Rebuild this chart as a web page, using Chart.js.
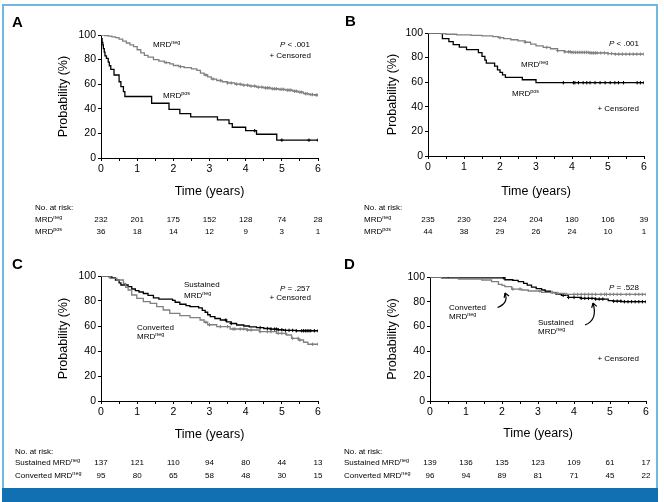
<!DOCTYPE html>
<html lang="en">
<head>
<meta charset="UTF-8">
<title>MRD survival curves</title>
<script src="https://cdn.jsdelivr.net/npm/chart.js"></script>
<style>
  body { margin: 0; background: #fff; width: 664px; height: 502px; position: relative; overflow: hidden; }
  .frame { position: absolute; left: 2px; top: 4px; width: 652px; height: 484px; border: 2px solid #72b7de; border-bottom: none; }
  .bar { position: absolute; left: 2px; top: 488px; width: 656px; height: 14px; background: #1070b2; }
  canvas { position: absolute; }
</style>
</head>
<body>
<div class="frame"></div>
<div class="bar"></div>
<canvas id="cA" width="332" height="250" style="left:0;top:0"></canvas>
<canvas id="cB" width="332" height="250" style="left:332px;top:0"></canvas>
<canvas id="cC" width="332" height="250" style="left:0;top:250px"></canvas>
<canvas id="cD" width="332" height="250" style="left:332px;top:250px"></canvas>
<script>
  const FAM = '"Liberation Sans", Arial, sans-serif';
  const BLACK = '#000';
  const GREY = '#808080';

  const years = [0, 1, 2, 3, 4, 5, 6];

  // Panel A
  const aNegT = [0, 0.1, 0.2, 0.3, 0.4, 0.5, 0.6, 0.7, 0.8, 0.9, 1.0, 1.1, 1.2, 1.3, 1.45, 1.6, 1.75, 1.9, 2.0, 2.15, 2.3, 2.5, 2.65, 2.75, 2.85, 2.95, 3.05, 3.2, 3.35, 3.5, 3.7, 3.9, 4.1, 4.3, 4.5, 4.7, 4.9, 5.1, 5.3, 5.45, 5.6, 5.75, 5.9, 6];
  const aNegS = [100, 99.6, 99.1, 98.5, 97.8, 96.6, 95, 93.5, 92, 90.5, 88, 85.5, 83.5, 82, 80, 78.8, 77.6, 76.5, 75.2, 74.3, 73.5, 72.4, 71.2, 69, 67.5, 66, 64.2, 63, 62, 61, 60, 59.2, 58.5, 57.6, 57, 56.3, 55.8, 55.2, 54.3, 53.5, 52.3, 51.6, 51.2, 51.2];
  const aNegCens = [1.8, 2.2, 2.9, 3.1, 3.3, 3.5, 3.6, 3.75, 3.85, 3.95, 4.05, 4.15, 4.25, 4.35, 4.45, 4.55, 4.6, 4.65, 4.75, 4.8, 4.85, 4.95, 5.0, 5.05, 5.15, 5.2, 5.25, 5.35, 5.4, 5.5, 5.55, 5.65, 5.7, 5.8, 5.85, 5.95, 6.0];
  const aPosT = [0, 0.01, 0.03, 0.05, 0.065, 0.09, 0.11, 0.15, 0.2, 0.23, 0.27, 0.36, 0.5, 0.55, 0.62, 0.66, 1.4, 1.88, 2.18, 2.48, 3.22, 3.54, 3.63, 4.0, 4.3, 4.86, 6];
  const aPosS = [100, 97, 94, 92, 89, 86, 83, 81, 78, 75, 72, 67.5, 62, 58, 54, 50, 44.5, 39.5, 36, 33.5, 31, 28, 25, 22.2, 19.3, 14.5, 14.5];
  const aPosCens = [4.25, 5.0, 5.75, 6.0];
  const riskANeg = [232, 201, 175, 152, 128, 74, 28];
  const riskAPos = [36, 18, 14, 12, 9, 3, 1];

  // Panel B
  const bNegT = [0, 0.35, 0.5, 0.8, 1.2, 1.5, 1.8, 1.95, 2.1, 2.3, 2.5, 2.7, 2.85, 3.0, 3.2, 3.4, 3.6, 3.8, 4.0, 4.5, 5.0, 5.2, 6];
  const bNegS = [100, 99.5, 99, 98.4, 98, 97.6, 97, 96.2, 95.5, 94.5, 93.6, 92.5, 91, 89.5, 88.3, 87.2, 85.6, 84.7, 84.2, 83.8, 83.3, 82.8, 82.8];
  const bNegCens = [2.0, 2.7, 3.3, 3.6, 3.8, 3.9, 3.95, 4.0, 4.05, 4.1, 4.15, 4.2, 4.25, 4.3, 4.35, 4.4, 4.45, 4.5, 4.55, 4.6, 4.65, 4.7, 4.8, 4.9, 5.0, 5.1, 5.2, 5.3, 5.4, 5.5, 5.6, 5.7, 5.8, 5.9, 6.0];
  const bPosT = [0, 0.4, 0.58, 0.7, 0.87, 1.07, 1.4, 1.5, 1.58, 1.62, 1.85, 1.93, 2.0, 2.07, 2.15, 2.62, 3.0, 6];
  const bPosS = [100, 95.5, 93, 90.5, 88.5, 86.5, 84, 81, 78, 75.5, 73, 70, 68, 66, 64, 62, 59.6, 59.6];
  const bPosCens = [3.76, 4.04, 4.08, 4.18, 4.31, 4.41, 4.5, 4.64, 4.78, 4.92, 5.06, 5.19, 5.29, 5.43, 5.81, 5.9, 6.0];
  const riskBNeg = [235, 230, 224, 204, 180, 106, 39];
  const riskBPos = [44, 38, 29, 26, 24, 10, 1];

  // Panel C
  const cSusT = [0, 0.22, 0.3, 0.4, 0.5, 0.55, 0.75, 0.85, 0.95, 1.05, 1.17, 1.3, 1.45, 1.6, 1.98, 2.05, 2.18, 2.35, 2.46, 2.7, 2.8, 2.88, 2.95, 3.02, 3.15, 3.3, 3.47, 3.6, 3.75, 3.95, 4.1, 4.3, 4.5, 4.7, 4.9, 5.05, 5.4, 6];
  const cSusS = [100, 99.3, 98.5, 96.8, 94.5, 92.8, 91.5, 89.6, 88.3, 87.2, 86, 84.5, 82.5, 81.5, 80.5, 79, 77.4, 76.3, 75.5, 74.5, 72.5, 71, 69, 67.5, 66, 64.8, 63.3, 62, 60.8, 60, 59.3, 58.7, 58, 57.5, 57, 56.5, 56.2, 56.2];
  const cSusCens = [3.45, 3.6, 4.4, 4.6, 4.7, 4.8, 4.85, 4.9, 5.0, 5.1, 5.2, 5.3, 5.4, 5.55, 5.6, 5.65, 5.7, 5.75, 5.8, 5.9, 6.0];
  const cConT = [0, 0.25, 0.44, 0.62, 0.68, 0.75, 0.85, 0.99, 1.17, 1.36, 1.54, 1.72, 1.9, 2.18, 2.46, 2.74, 2.85, 2.95, 3.2, 3.57, 4.03, 4.39, 4.85, 5.13, 5.27, 5.46, 5.6, 5.72, 6];
  const cConS = [100, 98.1, 96.8, 94.1, 91, 88.8, 84.8, 82.1, 79.5, 78.1, 75.5, 72.8, 70.1, 68.3, 66.7, 64.8, 63, 61, 59.5, 57.6, 56.8, 55.5, 54.1, 52.8, 50.1, 48.8, 47, 45.4, 45.4];
  const cConCens = [2.9, 3.0, 3.3, 3.5, 3.65, 3.7, 3.85, 3.95, 4.05, 4.15, 4.4, 4.6, 4.7, 4.9, 5.0, 5.1, 5.3, 5.45, 5.5, 5.85, 6.0];
  const riskCSus = [137, 121, 110, 94, 80, 44, 13];
  const riskCCon = [95, 80, 65, 58, 48, 30, 15];

  // Panel D
  const dSusT = [0, 0.51, 2.08, 2.3, 2.45, 2.6, 2.7, 2.82, 2.95, 3.1, 3.2, 3.35, 3.5, 3.65, 3.84, 4.2, 4.6, 4.95, 5.1, 5.32, 6];
  const dSusS = [100, 99.3, 97.8, 97.2, 96.2, 94.8, 93.5, 91.8, 90.6, 89.5, 88.5, 87.4, 86.2, 85.2, 83.5, 82.8, 82.2, 81, 80.5, 80.1, 80.1];
  const dSusCens = [2.05, 3.7, 3.85, 4.0, 4.2, 4.3, 4.4, 4.5, 4.6, 4.7, 4.8, 5.1, 5.2, 5.3, 5.4, 5.5, 5.6, 5.7, 5.8, 5.9, 6.0];
  const dConT = [0, 0.32, 0.79, 1.44, 1.71, 1.9, 2.0, 2.08, 2.27, 2.55, 2.73, 3.1, 3.47, 3.75, 6];
  const dConS = [100, 98.9, 98.4, 97.6, 96.2, 94.1, 93.2, 92.2, 90.3, 89.5, 88.7, 87.6, 86.8, 86, 86];
  const dConCens = [2.3, 2.5, 3.05, 3.4, 3.55, 3.8, 4.0, 4.1, 4.2, 4.3, 4.4, 4.5, 4.6, 4.75, 4.85, 4.9, 5.0, 5.1, 5.2, 5.3, 5.45, 5.55, 5.7, 5.8, 5.9, 6.0];
  const riskDSus = [139, 136, 135, 123, 109, 61, 17];
  const riskDCon = [96, 94, 89, 81, 71, 45, 22];

  // value of the KM step function at time t
  function stepAt(ts, ss, t) {
    let v = ss[0];
    for (let i = 0; i < ts.length; i++) if (ts[i] <= t) v = ss[i];
    return v;
  }

  // text with optional italic / superscript parts, y is the visual middle
  function rich(ctx, parts, x, y, align, size) {
    size = size || 8;
    const fonts = parts.map(p => (p.it ? 'italic ' : '') + (p.sup ? size * 0.68 : size) + 'px ' + FAM);
    let w = 0;
    parts.forEach((p, i) => { ctx.font = fonts[i]; w += ctx.measureText(p.t).width; });
    let cx = align === 'right' ? x - w : x;
    ctx.textAlign = 'left';
    ctx.textBaseline = 'alphabetic';
    parts.forEach((p, i) => {
      ctx.font = fonts[i];
      ctx.fillText(p.t, cx, y + size * 0.36 - (p.sup ? size * 0.42 : 0));
      cx += ctx.measureText(p.t).width;
    });
  }

  function drawArrow(ctx, a) {
    ctx.strokeStyle = '#000';
    ctx.lineWidth = 1.2;
    ctx.beginPath();
    ctx.moveTo(a.from[0], a.from[1]);
    ctx.quadraticCurveTo(a.ctrl[0], a.ctrl[1], a.to[0], a.to[1]);
    ctx.stroke();
    const ang = Math.atan2(a.to[1] - a.ctrl[1], a.to[0] - a.ctrl[0]);
    ctx.beginPath();
    [0.55, -0.55].forEach(d => {
      ctx.moveTo(a.to[0], a.to[1]);
      ctx.lineTo(a.to[0] - 5 * Math.cos(ang + d), a.to[1] - 5 * Math.sin(ang + d));
    });
    ctx.stroke();
  }

  const mrd = sup => [{ t: 'MRD' }, { t: sup, sup: true }];

  const panelText = {
    id: 'panelText',
    afterDraw(chart, args, opts) {
      const ctx = chart.ctx;
      ctx.save();
      ctx.fillStyle = '#000';
      ctx.font = 'bold 15px ' + FAM;
      ctx.textAlign = 'left';
      ctx.textBaseline = 'middle';
      ctx.fillText(opts.letter, opts.letterPos[0], opts.letterPos[1]);
      opts.texts.forEach(tx => rich(ctx, tx.parts, tx.x, tx.y, tx.align));
      (opts.arrows || []).forEach(a => drawArrow(ctx, a));
      const xs = chart.scales.x;
      const r = opts.risk;
      rich(ctx, [{ t: 'No. at risk:' }], r.x, r.y[0], 'left');
      r.rows.forEach((row, i) => {
        const y = r.y[i + 1];
        rich(ctx, row.label, r.x, y, 'left');
        ctx.font = '8px ' + FAM;
        ctx.textAlign = 'center';
        ctx.textBaseline = 'middle';
        row.values.forEach((v, j) => ctx.fillText(String(v), xs.getPixelForValue(years[j]), y + 0.5));
      });
      ctx.restore();
    }
  };

  function kmChart(id, p) {
    const datasets = [];
    p.curves.forEach(c => {
      datasets.push({
        data: c.t.map((t, i) => ({ x: t, y: c.s[i] })),
        borderColor: c.color, borderWidth: 1.3, pointRadius: 0,
        stepped: 'before', fill: false
      });
      datasets.push({
        data: c.cens.map(t => ({ x: t, y: stepAt(c.t, c.s, t) })),
        showLine: false, pointStyle: 'cross', pointRadius: 1.7,
        borderColor: c.color, borderWidth: 1
      });
    });
    new Chart(document.getElementById(id), {
      type: 'line',
      data: { datasets },
      plugins: [panelText],
      options: {
        responsive: false,
        animation: false,
        layout: { padding: p.pad },
        plugins: { legend: { display: false }, tooltip: { enabled: false }, panelText: p.text },
        scales: {
          x: {
            type: 'linear', min: 0, max: 6,
            afterFit: s => { s.height = p.xh; },
            ticks: {
              stepSize: 0.5, autoSkip: false, maxRotation: 0, color: '#000', padding: 2,
              font: { size: 10.5, family: FAM },
              callback: v => Math.abs(v - Math.round(v)) < 1e-6 ? String(Math.round(v)) : ''
            },
            grid: { drawOnChartArea: false, tickLength: 3, color: '#000' },
            border: { color: '#000', width: 1 },
            title: { display: true, text: 'Time (years)', color: '#000', padding: 0, font: { size: 12.5, family: FAM } }
          },
          y: {
            min: 0, max: 100,
            afterFit: s => { s.width = p.yw; },
            ticks: {
              stepSize: 10, color: '#000', padding: 2,
              font: { size: 10.5, family: FAM },
              callback: v => v % 20 === 0 ? String(v) : ''
            },
            grid: { drawOnChartArea: false, tickLength: 3, color: '#000' },
            border: { color: '#000', width: 1 },
            title: { display: true, text: 'Probability (%)', color: '#000', padding: 0, font: { size: 12.5, family: FAM } }
          }
        }
      }
    });
  }

  kmChart('cA', {
    pad: { left: 56, right: 14, top: 35, bottom: 51 }, yw: 45, xh: 41,
    curves: [
      { t: aNegT, s: aNegS, cens: aNegCens, color: GREY },
      { t: aPosT, s: aPosS, cens: aPosCens, color: BLACK }
    ],
    text: {
      letter: 'A', letterPos: [12, 23],
      texts: [
        { parts: mrd('neg'), x: 153, y: 44 },
        { parts: mrd('pos'), x: 163, y: 95 },
        { parts: [{ t: 'P', it: true }, { t: ' < .001' }], x: 310, y: 44, align: 'right' },
        { parts: [{ t: '+ Censored' }], x: 311, y: 55, align: 'right' }
      ],
      risk: { x: 35, y: [207, 219, 231], rows: [
        { label: mrd('neg'), values: riskANeg },
        { label: mrd('pos'), values: riskAPos }
      ] }
    }
  });

  kmChart('cB', {
    pad: { left: 53, right: 20, top: 33, bottom: 51 }, yw: 43, xh: 43,
    curves: [
      { t: bNegT, s: bNegS, cens: bNegCens, color: GREY },
      { t: bPosT, s: bPosS, cens: bPosCens, color: BLACK }
    ],
    text: {
      letter: 'B', letterPos: [13, 22],
      texts: [
        { parts: [{ t: 'P', it: true }, { t: ' < .001' }], x: 307, y: 43, align: 'right' },
        { parts: mrd('neg'), x: 189, y: 64 },
        { parts: mrd('pos'), x: 180, y: 93 },
        { parts: [{ t: '+ Censored' }], x: 307, y: 108, align: 'right' }
      ],
      risk: { x: 32, y: [207, 219, 231], rows: [
        { label: mrd('neg'), values: riskBNeg },
        { label: mrd('pos'), values: riskBPos }
      ] }
    }
  });

  kmChart('cC', {
    pad: { left: 56, right: 14, top: 26, bottom: 58 }, yw: 45, xh: 41,
    curves: [
      { t: cConT, s: cConS, cens: cConCens, color: GREY },
      { t: cSusT, s: cSusS, cens: cSusCens, color: BLACK }
    ],
    text: {
      letter: 'C', letterPos: [12, 15],
      texts: [
        { parts: [{ t: 'Sustained' }], x: 184, y: 34 },
        { parts: mrd('neg'), x: 184, y: 45 },
        { parts: [{ t: 'P', it: true }, { t: ' = .257' }], x: 310, y: 38, align: 'right' },
        { parts: [{ t: '+ Censored' }], x: 311, y: 47, align: 'right' },
        { parts: [{ t: 'Converted' }], x: 137, y: 77 },
        { parts: mrd('neg'), x: 137, y: 86 }
      ],
      risk: { x: 15, y: [201, 212, 225], rows: [
        { label: [{ t: 'Sustained ' }].concat(mrd('neg')), values: riskCSus },
        { label: [{ t: 'Converted ' }].concat(mrd('neg')), values: riskCCon }
      ] }
    }
  });

  kmChart('cD', {
    pad: { left: 53, right: 18, top: 27, bottom: 59 }, yw: 45, xh: 40,
    curves: [
      { t: dConT, s: dConS, cens: dConCens, color: GREY },
      { t: dSusT, s: dSusS, cens: dSusCens, color: BLACK }
    ],
    text: {
      letter: 'D', letterPos: [12, 15],
      texts: [
        { parts: [{ t: 'P', it: true }, { t: ' = .528' }], x: 307, y: 37, align: 'right' },
        { parts: [{ t: 'Converted' }], x: 117, y: 57 },
        { parts: mrd('neg'), x: 117, y: 66 },
        { parts: [{ t: 'Sustained' }], x: 206, y: 72 },
        { parts: mrd('neg'), x: 206, y: 81 },
        { parts: [{ t: '+ Censored' }], x: 307, y: 108, align: 'right' }
      ],
      arrows: [
        { from: [165.5, 57.5], ctrl: [177, 53], to: [173, 43] },
        { from: [253, 75], ctrl: [266, 70], to: [261, 53] }
      ],
      risk: { x: 12, y: [201, 212, 225], rows: [
        { label: [{ t: 'Sustained ' }].concat(mrd('neg')), values: riskDSus },
        { label: [{ t: 'Converted ' }].concat(mrd('neg')), values: riskDCon }
      ] }
    }
  });
</script>
</body>
</html>
